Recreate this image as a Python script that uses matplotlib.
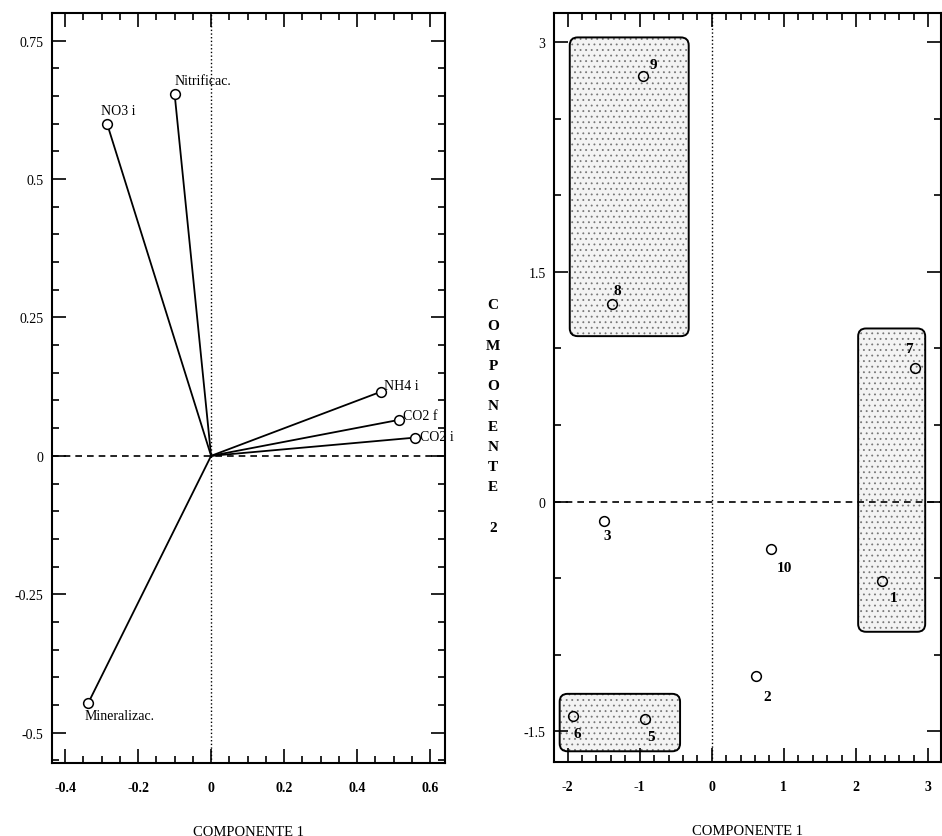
import matplotlib
matplotlib.use("Agg")
import matplotlib.pyplot as plt
from matplotlib.patches import FancyBboxPatch
from matplotlib.ticker import MultipleLocator

plt.rcParams['font.family'] = ['Liberation Serif', 'DejaVu Serif']
plt.rcParams['hatch.linewidth'] = 0.6

# cargas das variaveis (painel esquerdo)
var_names = ['NO3 i', 'Nitrificac.', 'NH4 i', 'CO2 f', 'CO2 i', 'Mineralizac.']
var_c1 = [-0.285, -0.10, 0.466, 0.515, 0.56, -0.337]
var_c2 = [0.60, 0.654, 0.116, 0.065, 0.033, -0.447]
var_off = [(-6, 7), (0, 7), (3, 6), (4, 4), (5, 1), (-4, -6)]
var_va = ['bottom', 'bottom', 'center', 'center', 'center', 'top']

# escores das amostras (painel direito)
samp_names = ['1', '2', '3', '5', '6', '7', '8', '9', '10']
samp_c1 = [2.36, 0.61, -1.50, -0.93, -1.93, 2.82, -1.39, -0.96, 0.82]
samp_c2 = [-0.52, -1.14, -0.13, -1.42, -1.40, 0.875, 1.29, 2.78, -0.31]
samp_off = [(12, -16), (11, -20), (4, -14), (6, -17), (5, -17), (-6, 19), (6, 13), (11, 11), (14, -18)]

# grupos (caixas pontilhadas)
grp_x0 = [-1.97, 2.03, -2.11]
grp_x1 = [-0.32, 2.96, -0.44]
grp_y0 = [1.08, -0.85, -1.63]
grp_y1 = [3.03, 1.13, -1.255]

fig = plt.figure(figsize=(9.42, 8.37), dpi=100)
ax1 = fig.add_axes([0.0552, 0.0872, 0.4172, 0.896])
ax2 = fig.add_axes([0.588, 0.0884, 0.411, 0.895])


def style_axes(ax):
    for s in ax.spines.values():
        s.set_linewidth(1.5)
    ax.tick_params(which='both', direction='in', top=True, right=True, width=1.2)
    ax.tick_params(which='major', length=10)
    ax.tick_params(which='minor', length=5)
    ax.tick_params(axis='x', pad=13, labelsize=10)
    ax.tick_params(axis='y', pad=6, labelsize=10)
    for lab in ax.get_xticklabels():
        lab.set_fontweight('bold')


# painel esquerdo
ax1.set_xlim(-0.436, 0.641)
ax1.set_ylim(-0.555, 0.80)
ax1.axhline(0, color='black', ls=(0, (4, 3)), lw=1.2)
ax1.axvline(0, color='black', ls=':', lw=1.0)
for name, x, y, off, va in zip(var_names, var_c1, var_c2, var_off, var_va):
    ax1.plot([0, x], [0, y], color='black', lw=1.3)
    ax1.plot(x, y, 'o', mfc='white', mec='black', ms=7, mew=1.1)
    ax1.annotate(name, (x, y), xytext=off, textcoords='offset pixels',
                 ha='left', va=va, fontsize=10)
ax1.set_xticks([-0.4, -0.2, 0, 0.2, 0.4, 0.6])
ax1.set_xticklabels(['-0.4', '-0.2', '0', '0.2', '0.4', '0.6'])
ax1.set_yticks([-0.5, -0.25, 0, 0.25, 0.5, 0.75])
ax1.set_yticklabels(['-0.5', '-0.25', '0', '0.25', '0.5', '0.75'])
ax1.xaxis.set_minor_locator(MultipleLocator(0.05))
ax1.yaxis.set_minor_locator(MultipleLocator(0.05))
style_axes(ax1)
ax1.set_xlabel('COMPONENTE 1', fontsize=10.5, labelpad=22)

# painel direito
ax2.set_xlim(-2.19, 3.18)
ax2.set_ylim(-1.70, 3.19)
for x0, x1, y0, y1 in zip(grp_x0, grp_x1, grp_y0, grp_y1):
    fill = FancyBboxPatch((x0, y0), x1 - x0, y1 - y0,
                          boxstyle='round,pad=0,rounding_size=0.11',
                          mutation_aspect=0.47, facecolor='#f3f3f3',
                          edgecolor='#777777', hatch='...', lw=0, zorder=1)
    edge = FancyBboxPatch((x0, y0), x1 - x0, y1 - y0,
                          boxstyle='round,pad=0,rounding_size=0.11',
                          mutation_aspect=0.47, facecolor='none',
                          edgecolor='black', lw=1.4, zorder=2)
    ax2.add_patch(fill)
    ax2.add_patch(edge)
ax2.axhline(0, color='black', ls=(0, (4, 3)), lw=1.2, zorder=3)
ax2.axvline(0, color='black', ls=':', lw=1.0, zorder=3)
for name, x, y, off in zip(samp_names, samp_c1, samp_c2, samp_off):
    ax2.plot(x, y, 'o', mfc='none', mec='black', ms=7, mew=1.1, zorder=4)
    ax2.annotate(name, (x, y), xytext=off, textcoords='offset pixels',
                 ha='center', va='center', fontsize=11, fontweight='bold', zorder=4)
ax2.set_xticks([-2, -1, 0, 1, 2, 3])
ax2.set_xticklabels(['-2', '-1', '0', '1', '2', '3'])
ax2.set_yticks([-1.5, 0, 1.5, 3])
ax2.set_yticklabels(['-1.5', '0', '1.5', '3'])
ax2.xaxis.set_minor_locator(MultipleLocator(0.2))
ax2.yaxis.set_minor_locator(MultipleLocator(0.5))
style_axes(ax2)
ax2.set_xlabel('COMPONENTE 1', fontsize=10.5, labelpad=22)

fig.text(493 / 942, 1 - 417 / 837, 'C\nO\nM\nP\nO\nN\nE\nN\nT\nE\n\n2',
         ha='center', va='center', fontsize=11, fontweight='bold', linespacing=1.72)

fig.savefig('out.png', dpi=100)
